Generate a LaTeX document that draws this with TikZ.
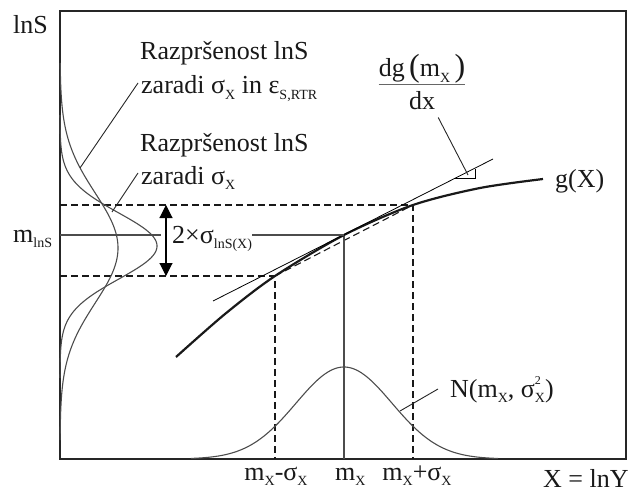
\documentclass[tikz,border=0pt]{standalone}
\usepackage{fontspec}
\setmainfont{Liberation Serif}
\usetikzlibrary{arrows.meta,calc}

\newcommand\lo[1]{\raisebox{-0.22em}{\fontsize{14}{14}\selectfont #1}}
\newcommand\hi[1]{\raisebox{0.5em}{\fontsize{12}{12}\selectfont #1}}
\newcommand\bigpar[1]{{\fontsize{32}{32}\selectfont #1}}

\begin{document}
\begin{tikzpicture}[x=1pt, y=-1pt, >={Triangle[length=13pt,width=13pt]},
    every node/.style={font=\fontsize{26}{30}\selectfont, text=black!90, inner sep=0pt},
    curve/.style={black!70, line width=1.1pt},
    guide/.style={black!90, line width=1.1pt, dash pattern=on 7pt off 4pt},
    leader/.style={black!85, line width=0.9pt}]
    \useasboundingbox (0,0) rectangle (629,492);

    % Frame
    \draw[line width=1.6pt, black!85] (60,11) rectangle (626,459);

    % Key points
    \coordinate (mS) at (60,235);
    \coordinate (P) at (344,235);
    \coordinate (Plo) at (275,276);
    \coordinate (Phi) at (413,205);
    \coordinate (mX) at (344,459);

    % Dashed guides and chord
    \draw[guide] (60,205) -- (Phi) -- (413,459);
    \draw[guide] (60,276) -- (Plo) -- (275,459);
    \draw[guide] (Plo) -- (Phi);

    % Mean lines
    \draw[curve] (P) -- (mX);
    \draw[curve] (mS) -- (161,235);

    % Spread of lnS
    \draw[curve, domain=63:440, samples=150, variable=\t]
        plot ({60+58*exp(-0.5*((\t-248)/55)^2)}, \t);
    \draw[curve, domain=115:378, samples=150, variable=\t]
        plot ({60+97*exp(-0.5*((\t-246)/33)^2)}, \t);

    % Normal density of X
    \draw[curve, domain=191:498, samples=120]
        plot (\x, {459-92*exp(-0.5*((\x-344)/48)^2)});

    % g(X) and tangent
    \draw[line width=2.2pt, black!90] plot[smooth] coordinates
        {(176,357) (225,314) (Plo) (P) (Phi) (480,188) (543,179)};
    \draw[line width=0.8pt] (213,301) -- (493,159);
    \draw[line width=0.8pt] (455,178.7) -- (475,178.7) -- (475,168.6);

    % 2 sigma arrow
    \draw[<->, line width=1.1pt] (166,205) -- (166,276);

    % Labels
    \node[anchor=base west] (ylab) at (13,34) {lnS};
    \node[anchor=base west] (mlnS) at (13,242) {m\lo{lnS}};
    \node[anchor=base west] (disp1a) at (140,60) {Razpršenost lnS};
    \node[anchor=base west] (disp1b) at (141,94) {zaradi σ\lo{X} in ε\lo{S,RTR}};
    \node[anchor=base west] (disp2a) at (140,152) {Razpršenost lnS};
    \node[anchor=base west] (disp2b) at (141,184) {zaradi σ\lo{X}};
    \node[anchor=base west] (twosig) at (172,243) {2×σ\lo{lnS(X)}};
    \node[anchor=base] (slopenum) at (422,77) {dg\,\bigpar{(}m\lo{X}\,\bigpar{)}};
    \node[anchor=base] (slopeden) at (422,110) {dx};
    \node[anchor=base west] (glab) at (555,187) {g(X)};
    \node[anchor=base west] (Nlab) at (450,397) {N(m\lo{X}, σ\rlap{\hi{2}}\lo{X})};
    \node[anchor=base] (lblo) at (276,480) {m\lo{X}-σ\lo{X}};
    \node[anchor=base west] (lbmid) at (335,480) {m\lo{X}};
    \node[anchor=base] (lbhi) at (417,480) {m\lo{X}+σ\lo{X}};
    \node[anchor=base west] (xlab) at (543,487) {X = lnY};

    % Leaders
    \draw[curve] (twosig.east |- P) -- (P);
    \draw[black!60, line width=0.8pt] (slopenum.south west) -- (slopenum.south east);
    \draw[leader] ($(disp1b.base west)+(-3,-11)$) -- (80,168);
    \draw[leader] ($(disp2b.base west)+(-3,-11)$) -- (112,212);
    \draw[leader] ($(slopeden.south east)+(3,7)$) -- (468,175);
    \draw[leader] ($(Nlab.base west)+(-12,-8)$) -- (400,411);
\end{tikzpicture}
\end{document}
